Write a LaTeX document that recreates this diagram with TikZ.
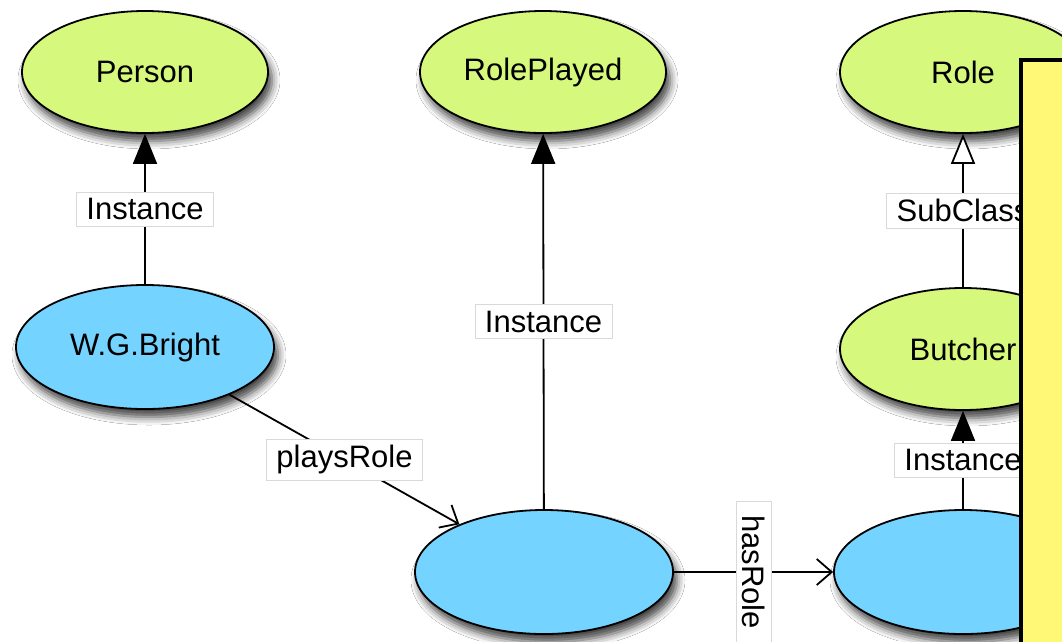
\documentclass[tikz,border=0pt]{standalone}
\usepackage{fontspec}
\setmainfont{Liberation Sans}
\usetikzlibrary{shapes.geometric,arrows.meta,shadows.blur}
\definecolor{classgreen}{RGB}{214,248,124}
\definecolor{instblue}{RGB}{117,212,255}
\definecolor{notebg}{RGB}{255,248,119}
\tikzset{
  every node/.style={font=\fontsize{31}{36}\selectfont},
  blob/.style={ellipse, draw=black, line width=1.8pt, inner sep=0pt,
    minimum width=246pt, minimum height=122pt,
    blur shadow={shadow xshift=4pt, shadow yshift=-8pt, shadow blur radius=8pt, shadow opacity=75}},
  classnode/.style={blob, fill=classgreen},
  instnode/.style={blob, fill=instblue, minimum width=258pt, minimum height=124pt},
  link/.style={line width=1.8pt, draw=black},
  filledtip/.style={-{Triangle[length=30pt,width=24pt]}},
  opentip/.style={-{Triangle[open,length=30pt,width=24pt,fill=white]}},
  veetip/.style={-{Straight Barb[length=15pt,width=26pt,line width=1.8pt]}},
  tag/.style={fill=white, draw=gray!30, line width=0.6pt, inner xsep=10pt, inner ysep=6pt},
  note/.style={fill=notebg, draw=black, line width=4pt}
}
\begin{document}
\begin{tikzpicture}[x=1pt,y=-1pt]
  \clip (0,0) rectangle (1062,641);
  \fill[white] (0,0) rectangle (1062,641);

  % classes
  \node[classnode] (person) at (145,72) {Person};
  \node[classnode] (roleplayed) at (543,72) {RolePlayed};
  \node[classnode] (role) at (963,72) {Role};
  \node[classnode] (butcher) at (963,349) {Butcher};

  % individuals
  \node[instnode] (bright) at (145,347) {W.G.Bright};
  \node[instnode] (rp) at (544,572) {};
  \node[instnode] (rr) at (963,572) {};

  % relations
  \draw[link,filledtip] (bright) -- node[tag] {Instance} (person);
  \draw[link,filledtip] (rp) -- node[tag] {Instance} (roleplayed);
  \draw[link,opentip] (butcher) -- node[tag] {SubClass} (role);
  \draw[link,filledtip] (rr) -- node[tag] {Instance} (butcher);
  \draw[link,veetip] (bright) -- node[tag] {playsRole} (rp);
  \draw[link,veetip] (rp) -- node[tag,rotate=-90,inner xsep=14pt] {hasRole} (rr);

  % note panel
  \node[note, anchor=north west, minimum width=80pt, minimum height=620pt] (panel) at (1019,58) {};
\end{tikzpicture}
\end{document}
